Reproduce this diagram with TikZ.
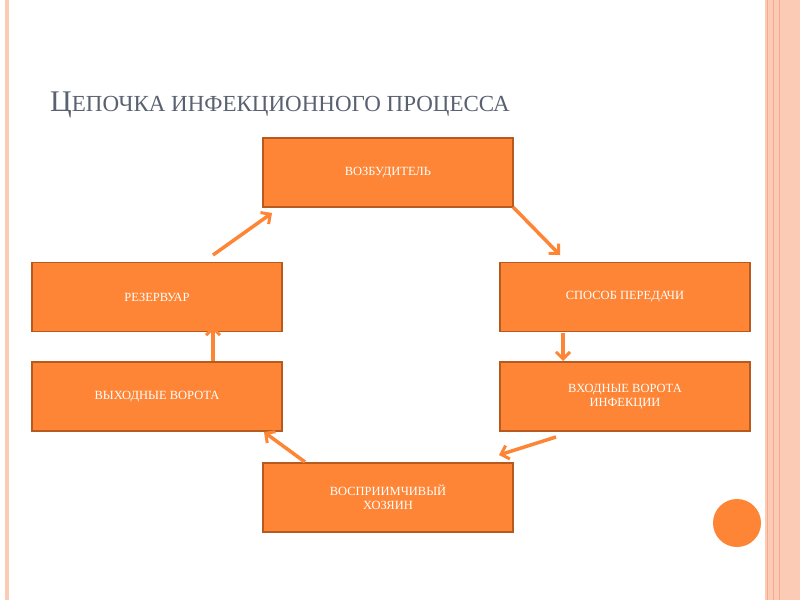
\documentclass[tikz,border=0pt]{standalone}
\usepackage{fontspec}
\setmainfont{Liberation Serif}
\usetikzlibrary{arrows.meta}
\definecolor{box}{HTML}{FD8535}
\definecolor{boxb}{HTML}{B65A1F}
\definecolor{pinkb}{HTML}{FBCBB6}
\definecolor{pinkl}{HTML}{F8A98A}
\definecolor{tgray}{HTML}{5A6170}
\begin{document}
\begin{tikzpicture}[x=1pt,y=-1pt,
  stepbox/.style={draw=boxb,line width=1.2pt,fill=box,minimum width=250pt,minimum height=69pt,text=white,font=\fontsize{12.5}{14}\selectfont,align=center,inner sep=2pt},
  conn/.style={draw=box,line width=3.5pt,-{Straight Barb[length=7pt,width=14pt,line width=3pt]}}]
\useasboundingbox (0,0) rectangle (800,600);
\fill[white] (0,0) rectangle (800,600);
\fill[pinkb] (765,0) rectangle (800,600);
\draw[pinkl,line width=1pt] (767,0)--(767,600) (773,0)--(773,600) (779,0)--(779,600);
\fill[pinkb] (5,0) rectangle (9,600);
\node[anchor=base west,text=tgray,inner sep=0] (title) at (50,111) {\fontsize{30}{30}\selectfont Ц\fontsize{23}{30}\selectfont ЕПОЧКА ИНФЕКЦИОННОГО ПРОЦЕССА};
\node[stepbox] (a) at (388,172.5) {ВОЗБУДИТЕЛЬ};
\node[stepbox] (b) at (625,297) {СПОСОБ ПЕРЕДАЧИ};
\node[stepbox] (c) at (625,396.5) {ВХОДНЫЕ ВОРОТА\\ИНФЕКЦИИ};
\node[stepbox] (d) at (388,497.5) {ВОСПРИИМЧИВЫЙ\\ХОЗЯИН};
\node[stepbox] (e) at (157,396.5) {ВЫХОДНЫЕ ВОРОТА};
\node[stepbox] (f) at (157,297) {РЕЗЕРВУАР};
\coordinate (f1) at (213,255); \coordinate (a1) at (272,213);
\coordinate (a2) at (513,207); \coordinate (b1) at (560,255);
\coordinate (b2) at (563,333); \coordinate (c1) at (563,361);
\coordinate (c2) at (556,437); \coordinate (d1) at (499,455);
\coordinate (d2) at (305,462); \coordinate (e1) at (264,432);
\coordinate (e2) at (213,361); \coordinate (f2) at (213,326);
\draw[conn] (f1)--(a1);
\draw[conn] (a2)--(b1);
\draw[conn] (b2)--(c1);
\draw[conn] (c2)--(d1);
\draw[conn] (d2)--(e1);
\draw[conn] (e2)--(f2);
\fill[box] (737,523) circle (24);
\end{tikzpicture}
\end{document}
